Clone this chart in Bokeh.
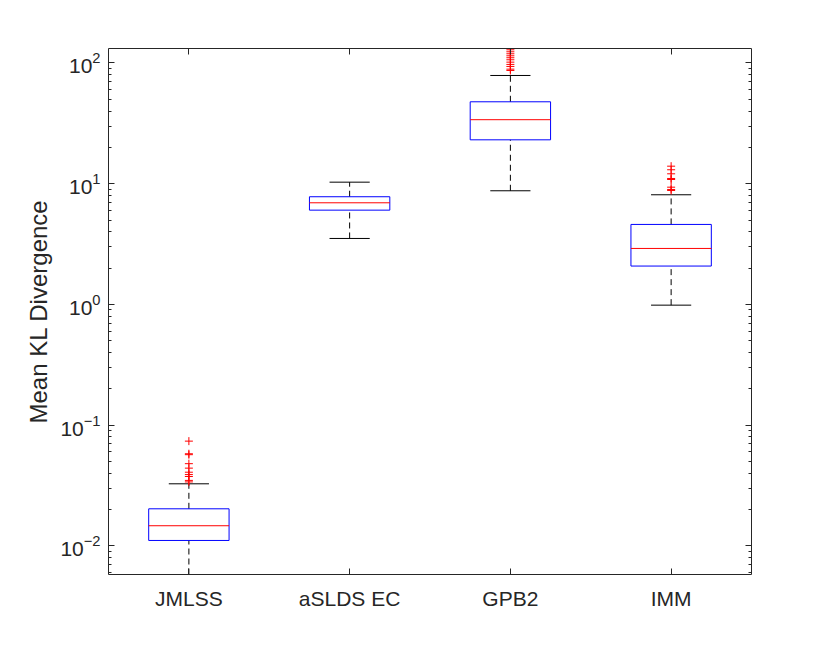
from bokeh.plotting import figure
from bokeh.models import FixedTicker, Range1d, LinearAxis, LogAxis, ColumnDataSource
from bokeh.embed import file_html
from bokeh.resources import INLINE

# ---- data ----
categories = ["JMLSS", "aSLDS EC", "GPB2", "IMM"]
q1 = [0.0111, 6.04, 23.1, 2.08]
median = [0.0147, 6.95, 33.9, 2.91]
q3 = [0.0203, 7.80, 47.7, 4.60]
whisker_low = [0.0058, 3.52, 8.74, 0.987]
whisker_high = [0.0327, 10.3, 78.8, 8.10]
outliers = {
    "JMLSS": [0.0738, 0.058, 0.057, 0.048, 0.0441, 0.0408, 0.039, 0.0376, 0.0349, 0.0339],
    "aSLDS EC": [],
    "GPB2": [128.6, 123.8, 119.2, 114.7, 110.5, 106.3, 101.6, 97.3, 93.6, 88.9, 86.7],
    "IMM": [13.97, 13.05, 12.08, 11.05, 10.84, 9.36, 8.96, 8.79],
}
y_ticks = [0.01, 0.1, 1, 10, 100]

FONT = "Liberation Sans"
TXT = "#262626"

xpos = list(range(1, len(categories) + 1))
box_half = 0.25
cap_half = 0.125

p = figure(width=822, height=637, y_axis_type="log", output_backend="svg",
           toolbar_location=None, frame_width=643, frame_height=526,
           min_border_left=108, min_border_top=48, min_border_right=71, min_border_bottom=63,
           x_range=Range1d(0.5, 4.5), y_range=Range1d(0.0058, 131.8))
p.background_fill_color = "white"
p.border_fill_color = "white"
p.outline_line_color = None
p.grid.visible = False

src = ColumnDataSource(dict(
    x=xpos, q1=q1, q3=q3, med=median, lo=whisker_low, hi=whisker_high,
    left=[x - box_half for x in xpos], right=[x + box_half for x in xpos],
    cl=[x - cap_half for x in xpos], cr=[x + cap_half for x in xpos],
))

# whiskers (dashed)
p.segment(x0="x", y0="q3", x1="x", y1="hi", source=src, line_color="black",
          line_dash="6 4", line_width=1)
p.segment(x0="x", y0="lo", x1="x", y1="q1", source=src, line_color="black",
          line_dash="6 4", line_width=1)
# caps
p.segment(x0="cl", y0="hi", x1="cr", y1="hi", source=src, line_color="black", line_width=1)
p.segment(x0="cl", y0="lo", x1="cr", y1="lo", source=src, line_color="black", line_width=1)
# boxes
p.quad(left="left", right="right", bottom="q1", top="q3", source=src,
       fill_color=None, line_color="#0000ff", line_width=1)
# medians
p.segment(x0="left", y0="med", x1="right", y1="med", source=src, line_color="#ff0000", line_width=1)

# outliers
ox, oy = [], []
for i, c in enumerate(categories):
    for v in outliers[c]:
        ox.append(xpos[i])
        oy.append(v)
p.scatter(ox, oy, marker="cross", size=8, line_color="#ff0000", line_width=1)

minor = [k * 10.0 ** e for e in range(-3, 3) for k in range(2, 10)]


def style_axis(ax, labels=True):
    ax.axis_line_color = TXT
    ax.major_tick_line_color = TXT
    ax.minor_tick_line_color = TXT
    ax.major_tick_in = 6
    ax.major_tick_out = 0
    ax.minor_tick_in = 3
    ax.minor_tick_out = 0
    ax.major_label_text_font = FONT
    ax.major_label_text_color = TXT
    if not labels:
        ax.major_label_text_font_size = "0px"
        ax.major_label_text_color = None


# bottom axis
xa = p.xaxis[0]
xa.ticker = FixedTicker(ticks=xpos)
xa.major_label_overrides = {x: c for x, c in zip(xpos, categories)}
style_axis(xa)
xa.major_label_text_font_size = "21px"
xa.major_label_standoff = 12

# left axis
ya = p.yaxis[0]
ya.ticker = FixedTicker(ticks=y_ticks, minor_ticks=minor)
style_axis(ya)
ya.major_label_text_font_size = "21px"
ya.major_label_standoff = 8
ya.axis_label = "Mean KL Divergence"
ya.axis_label_text_font = FONT
ya.axis_label_text_font_size = "24px"
ya.axis_label_text_font_style = "normal"
ya.axis_label_text_color = TXT
ya.axis_label_standoff = 5

# mirrored top and right axes
top = LinearAxis(ticker=FixedTicker(ticks=xpos))
style_axis(top, labels=False)
p.add_layout(top, "above")
right = LogAxis(ticker=FixedTicker(ticks=y_ticks, minor_ticks=minor))
style_axis(right, labels=False)
p.add_layout(right, "right")

open("out.html", "w").write(file_html(p, INLINE))
